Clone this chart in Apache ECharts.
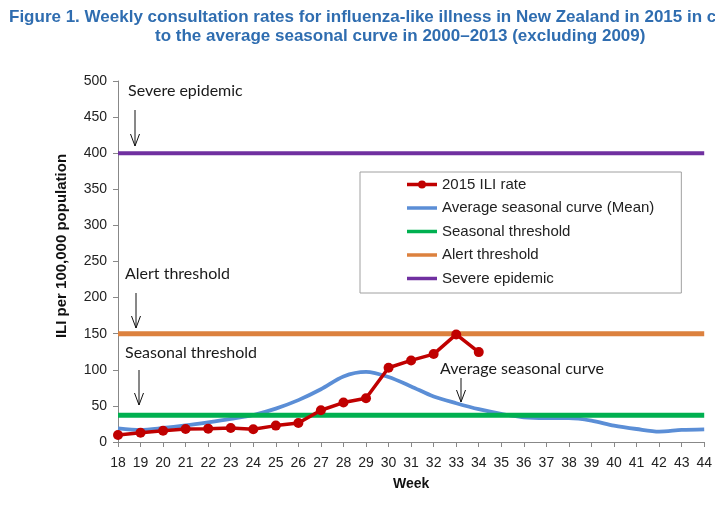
<!DOCTYPE html>
<html lang="en">
  <head>
    <meta charset="UTF-8" />
    <title>Weekly ILI consultation rates, New Zealand 2015</title>
    <script src="https://cdn.jsdelivr.net/npm/echarts@6/dist/echarts.min.js"></script>
    <style>
      html, body { margin: 0; padding: 0; background: #fff; }
      #main { width: 715px; height: 509px; }
    </style>
  </head>
  <body>
    <div id="main"></div>
    <script>
      // weeks 18..44
      var weeks = ["18","19","20","21","22","23","24","25","26","27","28","29","30","31",
                   "32","33","34","35","36","37","38","39","40","41","42","43","44"];
      // 2015 ILI rate (only up to week 34)
      var ili2015 = [9.7, 12.9, 15.7, 18, 18.5, 19.4, 17.6, 22.7, 26.4, 44, 54.6, 60.7,
                     102.8, 113, 121.8, 149, 124.5];
      // average seasonal curve 2000-2013 (excl. 2009)
      var avgCurve = [19, 16.7, 19.4, 23, 27.3, 32, 37.4, 46.3, 58, 73, 90.8, 97, 90,
                      77, 63, 53.7, 45.4, 39, 34, 33, 33, 29.6, 22.7, 18, 14.4, 16.7, 17.6];
      var seasonalThreshold = 37;
      var alertThreshold = 150;
      var severeEpidemic = 400;
      var yTicks = [0, 50, 100, 150, 200, 250, 300, 350, 400, 450, 500];

      // flat threshold lines across all weeks
      function flat(v) { return weeks.map(function () { return v; }); }

      // legend icons: plain bar, and bar with a small dot for the 2015 series
      var barIcon = "path://M0,0 L30,0 L30,3.5 L0,3.5 Z";
      var dotIcon = "path://M0,3 L11.2,3 L11.2,6.5 L0,6.5 Z M18.8,3 L30,3 L30,6.5 L18.8,6.5 Z " +
                    "M11,4.75 A4,4 0 1,1 19,4.75 A4,4 0 1,1 11,4.75 Z";

      var myChart = echarts.init(document.getElementById("main"));
      var option = {
        animation: false,
        title: [
          {
            text: "Figure 1. Weekly consultation rates for influenza-like illness in New Zealand in 2015 in comparison",
            left: 4, top: 4,
            textStyle: { fontFamily: "Liberation Sans", fontSize: 17, fontWeight: "bold", color: "#2F6DB0" }
          },
          {
            text: "to the average seasonal curve in 2000\u20132013 (excluding 2009)",
            left: 150, top: 23,
            textStyle: { fontFamily: "Liberation Sans", fontSize: 17, fontWeight: "bold", color: "#2F6DB0" }
          }
        ],
        legend: {
          orient: "vertical",
          left: 360, top: 172,
          padding: [5, 27, 7, 47],
          itemGap: 8.5,
          itemWidth: 30,
          itemHeight: 15,
          symbolKeepAspect: true,
          borderColor: "#a0a0a0",
          borderWidth: 1,
          textStyle: { fontFamily: "Liberation Sans", fontSize: 15, color: "#222" },
          data: [
            { name: "2015 ILI rate", icon: dotIcon },
            { name: "Average seasonal curve (Mean)", icon: barIcon },
            { name: "Seasonal threshold", icon: barIcon },
            { name: "Alert threshold", icon: barIcon },
            { name: "Severe epidemic", icon: barIcon }
          ]
        },
        grid: { left: 118, right: 9, top: 81, bottom: 67 },
        xAxis: {
          type: "category",
          data: weeks,
          boundaryGap: false,
          name: "Week",
          nameLocation: "middle",
          nameGap: 35,
          nameTextStyle: { fontFamily: "Liberation Sans", fontSize: 14, fontWeight: "bold", color: "#111" },
          axisLine: { lineStyle: { color: "#888", width: 1 } },
          axisTick: { alignWithLabel: true, length: 5, lineStyle: { color: "#888" } },
          axisLabel: { interval: 0, margin: 14, fontFamily: "Liberation Sans", fontSize: 14, color: "#222" },
          splitLine: { show: false }
        },
        yAxis: {
          type: "value",
          min: 0, max: 500, interval: 50,
          axisLine: { show: true, lineStyle: { color: "#888", width: 1 } },
          axisTick: { show: true, length: 5, lineStyle: { color: "#888" } },
          axisLabel: {
            margin: 11, fontFamily: "Liberation Sans", fontSize: 14, color: "#222",
            formatter: function (v) { return yTicks.indexOf(v) >= 0 ? String(v) : ""; }
          },
          splitLine: { show: false }
        },
        series: [
          {
            name: "Average seasonal curve (Mean)",
            type: "line",
            data: avgCurve,
            smooth: 0.3,
            showSymbol: false,
            symbol: "none",
            lineStyle: { color: "#5B8ED6", width: 3.8 },
            itemStyle: { color: "#5B8ED6" },
            z: 2
          },
          {
            name: "Seasonal threshold",
            type: "line",
            data: flat(seasonalThreshold),
            symbol: "none",
            lineStyle: { color: "#00B050", width: 5 },
            itemStyle: { color: "#00B050" },
            z: 3
          },
          {
            name: "Alert threshold",
            type: "line",
            data: flat(alertThreshold),
            symbol: "none",
            lineStyle: { color: "#DC813E", width: 5 },
            itemStyle: { color: "#DC813E" },
            z: 3
          },
          {
            name: "Severe epidemic",
            type: "line",
            data: flat(severeEpidemic),
            symbol: "none",
            lineStyle: { color: "#7030A0", width: 4 },
            itemStyle: { color: "#7030A0" },
            z: 3
          },
          {
            name: "2015 ILI rate",
            type: "line",
            data: ili2015,
            symbol: "circle",
            symbolSize: 10,
            lineStyle: { color: "#C00000", width: 3.5 },
            itemStyle: { color: "#C00000" },
            z: 5
          }
        ]
      };
      myChart.setOption(option);

      // text annotations with down arrows (pixel positions)
      var notes = [
        { text: "Severe epidemic", x: 128, y: 93, ax: 135, y1: 110, y2: 146 },
        { text: "Alert threshold", x: 125, y: 276, ax: 136, y1: 293, y2: 328 },
        { text: "Seasonal threshold", x: 125, y: 355, ax: 139, y1: 370, y2: 405 },
        { text: "Average seasonal curve", x: 440, y: 371, ax: 461, y1: 378, y2: 402 }
      ];
      var els = [
        {
          // y axis title, sits a bit above the axis middle like the original
          type: "text", x: 62, y: 246, rotation: Math.PI / 2, z: 20,
          style: {
            text: "ILI per 100,000 population", align: "center", verticalAlign: "middle",
            fontFamily: "Liberation Sans", fontSize: 15, fontWeight: "bold", fill: "#111"
          }
        }
      ];
      notes.forEach(function (n) {
        els.push({
          type: "text", left: n.x, top: n.y - 10, z: 20,
          style: { text: n.text, fontFamily: "Lato", fontSize: 16, fill: "#1a1a1a" }
        });
        els.push({
          type: "line", z: 20,
          shape: { x1: n.ax, y1: n.y1, x2: n.ax, y2: n.y2 },
          style: { stroke: "#111", lineWidth: 1 }
        });
        els.push({
          type: "polyline", z: 20,
          shape: { points: [[n.ax - 4.5, n.y2 - 12], [n.ax, n.y2], [n.ax + 4.5, n.y2 - 12]] },
          style: { stroke: "#111", lineWidth: 1, fill: null }
        });
      });
      myChart.setOption({ graphic: els });

      window.addEventListener("resize", function () {
        myChart.resize();
      });
    </script>
  </body>
</html>
